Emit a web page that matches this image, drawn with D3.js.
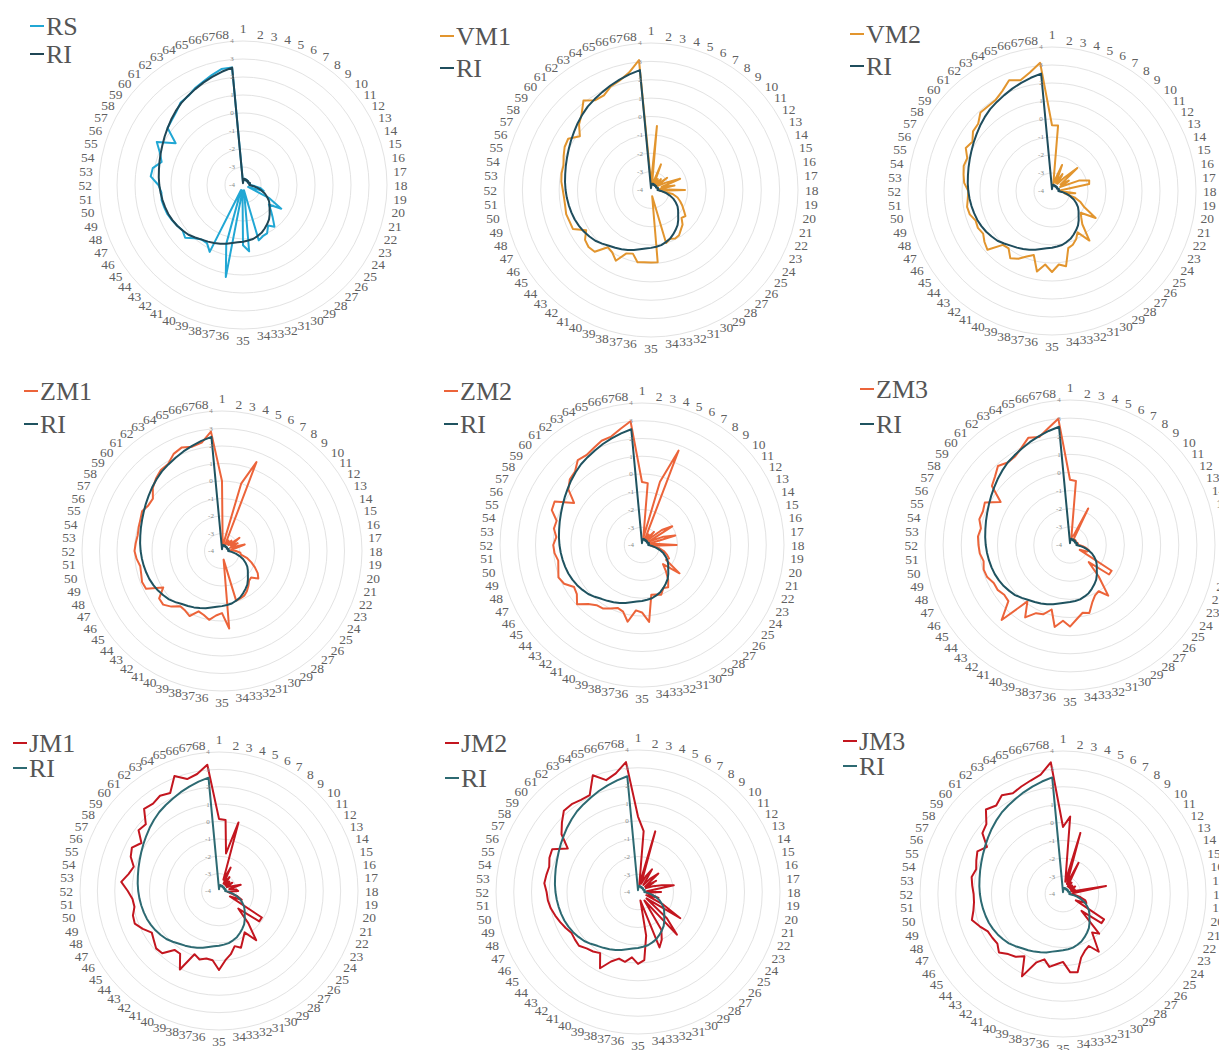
<!DOCTYPE html>
<html><head><meta charset="utf-8">
<script src="https://cdn.jsdelivr.net/npm/d3@7"></script>
<style>body{margin:0;background:#fff;}svg{display:block;}</style>
</head><body>
<svg id="chart" width="1219" height="1050"></svg>
<script>
// ---------- data ----------
const categories = d3.range(1, 69).map(String);
const tickValues = [-4, -3, -2, -1, 0, 1, 2, 3, 4];

const RI = [-3.9,-3.7,-3.65,-3.65,-3.65,-3.7,-3.65,-3.65,-3.7,-3.65,
 -3.65,-3.65,-3.7,-3.65,-3.6,-3.65,-3.6,-3.65,-3.45,-3.2,
 -2.95,-2.7,-2.5,-2.3,-2.15,-2.0,-1.8,-1.6,-1.45,-1.3,
 -1.15,-1.05,-0.95,-0.9,-0.85,-0.8,-0.72,-0.6,-0.5,-0.4,
 -0.3,-0.2,-0.05,0.1,0.2,0.3,0.38,0.45,0.5,0.55,
 0.6,0.65,0.7,0.75,0.82,0.9,1.0,1.12,1.25,1.4,
 1.55,1.7,1.82,1.95,2.1,2.25,2.4,2.55];

const RS = [-3.85,-3.7,-3.65,-3.65,-3.7,-3.65,-3.7,-3.65,-3.7,-3.65,
 -3.7,-3.65,-3.7,-3.65,-3.65,-3.6,-3.65,-3.6,-3.35,-3.0,
 -2.8,-3.7,-2.4,-1.5,-2.2,-1.9,-1.55,-1.1,-1.35,-1.0,
 -0.95,-0.8,-3.7,-0.3,-0.65,-3.7,1.2,-0.6,-3.7,0.15,
 -0.2,-0.2,0.0,0.35,0.2,0.3,0.4,0.5,0.55,0.6,
 0.55,0.7,1.15,1.1,0.7,0.95,1.35,0.4,1.25,1.35,
 1.5,1.75,1.8,2.0,2.15,2.35,2.55,2.55];

const VM1 = [-3.6,-0.5,-3.7,-3.6,-2.5,-3.6,-3.3,-3.6,-3.2,-3.6,
 -2.9,-3.6,-3.1,-2.3,-3.4,-2.7,-3.6,-2.15,-3.5,-2.8,
 -2.5,-2.3,-2.1,-1.9,-1.65,-1.75,-1.45,-1.3,-1.1,-1.05,
 -1.15,-1.0,-3.65,-0.05,-0.05,-0.05,0.0,-0.4,-0.3,0.3,
 0.0,-0.1,0.55,0.6,0.5,0.15,0.75,0.75,0.8,0.75,
 0.75,0.8,0.9,0.95,0.95,1.1,1.25,1.3,0.85,1.3,
 1.6,2.1,1.75,1.75,2.05,2.2,2.5,3.1];

const VM2 = [-0.35,-0.35,-3.6,-3.3,-2.45,-3.5,-2.9,-3.5,-3.0,-2.1,
 -3.4,-2.9,-3.5,-2.4,-1.85,-1.9,-3.5,-3.6,-2.7,-3.3,
 -2.7,-2.3,-2.0,-1.15,-2.0,-1.8,-1.5,-0.55,-1.3,-1.0,
 -0.8,-0.7,0.25,0.1,0.5,0.1,0.55,-0.3,-0.1,0.2,
 0.4,0.0,0.05,0.85,0.7,0.5,0.6,0.55,0.75,0.8,
 0.7,0.65,0.9,1.0,1.1,1.05,1.35,1.2,1.5,1.55,
 1.9,1.9,1.95,2.2,2.6,2.4,2.7,3.15];

const ZM1 = [0.0,-3.6,-3.6,0.0,1.45,-3.6,-3.3,-3.5,-3.2,-3.5,
 -2.75,-3.4,-3.0,-3.5,-2.65,-3.3,-3.5,-3.2,-2.95,-2.9,
 -2.5,-2.2,-1.9,-1.6,-1.4,-1.75,-1.7,-1.5,-1.3,-1.15,
 -1.1,-1.05,-3.5,0.45,-0.45,-0.3,0.0,-0.2,-0.3,0.15,
 0.0,-0.05,0.3,0.55,0.5,-0.05,0.85,0.9,0.8,0.75,
 0.9,1.0,0.95,0.9,0.95,1.0,1.1,0.95,0.95,1.35,
 1.6,1.8,1.85,2.2,2.35,2.2,2.3,2.85];

const ZM2 = [-0.45,-0.5,-3.6,-0.3,1.7,-3.6,-3.3,-3.6,-3.0,-3.6,
 -2.6,-2.0,-3.6,-2.7,-2.05,-3.6,-3.3,-2.05,-3.5,-3.0,
 -2.7,-2.5,-2.3,-2.4,-1.35,-2.4,-2.0,-1.55,-1.2,-1.3,
 -1.0,-1.1,-1.15,0.35,-0.2,-0.3,0.4,-0.1,-0.2,0.0,
 0.2,0.25,0.5,0.95,0.6,0.5,0.9,1.05,0.9,0.8,
 0.95,1.0,0.85,1.05,1.0,1.45,1.5,0.5,1.2,1.5,
 1.6,2.0,1.95,2.1,2.3,2.35,2.65,3.0];

const ZM3 = [-0.4,-0.45,-3.6,-3.5,-3.4,-1.75,-3.6,-3.6,-3.65,-3.6,
 -3.65,-3.6,-3.65,-3.6,-3.6,-3.55,-3.6,-3.5,-3.3,-3.1,
 -2.9,-3.0,-3.4,-1.3,-1.3,-2.6,-1.65,-0.5,-1.0,-0.9,
 -0.6,-0.1,-0.2,0.1,0.5,0.2,0.6,-0.3,0.1,0.2,
 0.7,-0.1,1.6,0.6,0.55,0.7,0.7,0.9,0.95,0.85,
 1.0,1.05,1.1,1.0,1.2,1.15,1.25,0.5,1.4,1.6,
 1.9,1.7,1.75,2.0,2.35,2.2,2.55,3.0];

const JM1 = [0.15,0.1,-1.8,0.1,-3.3,-2.5,-3.5,-3.0,-3.5,-3.2,
 -3.5,-3.1,-3.5,-3.3,-2.7,-3.4,-3.0,-2.9,-3.5,-3.3,
 -2.9,-2.6,-3.3,-1.1,-1.1,-2.5,-1.5,-0.45,-1.2,-0.9,
 -0.5,-0.7,-0.3,0.0,0.55,0.0,-0.05,0.1,-0.1,1.05,
 0.25,0.25,0.85,0.9,0.7,0.55,0.9,1.2,1.15,0.95,
 1.0,1.25,1.65,1.3,1.1,1.45,1.6,1.25,1.8,1.7,
 2.4,2.3,2.45,2.3,3.1,2.7,2.85,3.3];

const JM2 = [0.25,-0.55,-3.6,-0.45,-3.5,-3.0,-2.5,-3.5,-3.0,-2.45,
 -3.5,-2.8,-3.5,-3.1,-2.6,-1.95,-3.5,-2.7,-3.5,-3.3,
 -2.8,-3.5,-2.4,-1.2,-3.4,-1.8,-0.75,-3.4,-1.5,-1.0,
 -0.65,-3.5,-1.5,-0.15,0.05,-0.3,0.0,-0.1,0.2,0.8,
 0.05,0.2,0.3,0.5,0.45,0.4,0.55,0.7,0.85,1.0,
 1.1,1.15,1.3,1.25,1.2,1.35,1.4,0.65,1.4,1.8,
 2.2,2.2,2.1,2.1,3.05,2.55,2.8,3.35];

const JM3 = [-0.25,0.35,-3.3,-0.45,-3.4,-2.05,-3.5,-3.2,-3.5,-3.3,
 -3.5,-3.2,-3.5,-3.3,-3.5,-1.55,-3.4,-3.5,-3.3,-3.0,
 -2.7,-2.6,-3.2,-1.3,-1.3,-2.6,-1.0,-1.3,-0.2,-0.75,
 -0.6,-0.3,0.45,0.4,-0.2,-0.05,0.15,-0.2,0.1,1.15,
 0.1,0.4,0.55,0.85,0.6,0.65,0.7,1.0,1.3,1.1,
 1.0,1.0,1.1,1.2,1.05,1.2,1.35,1.0,1.65,1.8,
 2.4,2.2,2.5,2.3,2.45,2.6,2.8,3.4];

const seriesNames = ["RS","VM1","VM2","ZM1","ZM2","ZM3","JM1","JM2","JM3"];
const seriesValues = [RS, VM1, VM2, ZM1, ZM2, ZM3, JM1, JM2, JM3];
const refName = "RI";

// ---------- layout / style ----------
const seriesColors = ["#21a7d4","#e2952e","#e2952e","#ec643a","#ec643a","#ec643a","#c3161f","#c3161f","#c3161f"];
const riColors = ["#1f4655","#1f4d5d","#1f4d5d","#1f5360","#1f5360","#1f5360","#2d6a72","#2d6a72","#2d6a72"];
const layout = [
  {cx:243, cy:185, R:144, lx:30,  ly1:35,  ly2:63},
  {cx:651, cy:190, R:147, lx:440, ly1:45,  ly2:77},
  {cx:1052,cy:191, R:144, lx:850, ly1:43,  ly2:75},
  {cx:222, cy:551, R:140, lx:24,  ly1:400, ly2:433},
  {cx:642, cy:545, R:142, lx:444, ly1:400, ly2:433},
  {cx:1070,cy:545, R:145, lx:860, ly1:398, ly2:433},
  {cx:219, cy:891, R:139, lx:13,  ly1:752, ly2:777},
  {cx:638, cy:892, R:142, lx:445, ly1:752, ly2:787},
  {cx:1063,cy:894, R:143, lx:843, ly1:750, ly2:775}
];

const svg = d3.select("#chart");
const serif = "'Liberation Serif','Times New Roman',serif";
const labelFs = 13.5;
const angle = d3.scaleLinear().domain([0, categories.length]).range([0, 2 * Math.PI]);

seriesNames.forEach((name, k) => {
  const L = layout[k];
  const r = d3.scaleLinear().domain([-4, 4]).range([0, L.R]);
  const g = svg.append("g").attr("transform", `translate(${L.cx},${L.cy})`);

  // rings
  g.selectAll("circle.ring").data(tickValues.filter(v => v > -4)).join("circle")
    .attr("class","ring").attr("r", d => r(d))
    .attr("fill","none").attr("stroke","#e3e3e3").attr("stroke-width",1);

  // category labels
  const lr = L.R + 7;
  g.selectAll("text.cat").data(categories).join("text")
    .attr("class","cat")
    .each(function(d, i) {
      const a = angle(i);
      const s = Math.sin(a), c = Math.cos(a);
      const x = lr * s, y = -lr * c;
      let anchor, yy;
      if (Math.abs(s) < 1e-6) {
        anchor = "middle";
        yy = c > 0 ? y - 1 : y + labelFs * 0.7;
      } else {
        anchor = s > 0 ? "start" : "end";
        yy = y + labelFs * 0.34;
      }
      d3.select(this).attr("x", x).attr("y", yy).attr("text-anchor", anchor);
    })
    .attr("font-family", serif).attr("font-size", labelFs).attr("fill", "#606060")
    .text(d => d);

  // series lines
  const line = d3.lineRadial()
    .angle((d, i) => angle(i))
    .radius(d => r(d))
    .curve(d3.curveLinearClosed);

  g.append("path").datum(seriesValues[k]).attr("d", line)
    .attr("fill","none").attr("stroke", seriesColors[k]).attr("stroke-width",2)
    .attr("stroke-linejoin","round");
  g.append("path").datum(RI).attr("d", line)
    .attr("fill","none").attr("stroke", riColors[k]).attr("stroke-width",2)
    .attr("stroke-linejoin","round");

  // radial tick labels
  g.selectAll("text.tick").data(tickValues).join("text")
    .attr("class","tick")
    .attr("x", -11).attr("y", d => -r(d)).attr("dy","0.35em")
    .attr("text-anchor","middle")
    .attr("font-family", serif).attr("font-size", 7).attr("fill","#8a8a8a")
    .text(d => d);

  // legend
  const leg = svg.append("g");
  [[name, seriesColors[k], L.ly1], [refName, riColors[k], L.ly2]].forEach(([t, col, by]) => {
    leg.append("line").attr("x1", L.lx).attr("x2", L.lx + 14)
      .attr("y1", by - 9).attr("y2", by - 9)
      .attr("stroke", col).attr("stroke-width", 2);
    leg.append("text").attr("x", L.lx + 16).attr("y", by)
      .attr("font-family", serif).attr("font-size", 26).attr("fill", "#555555")
      .text(t);
  });
});
</script>
</body></html>
